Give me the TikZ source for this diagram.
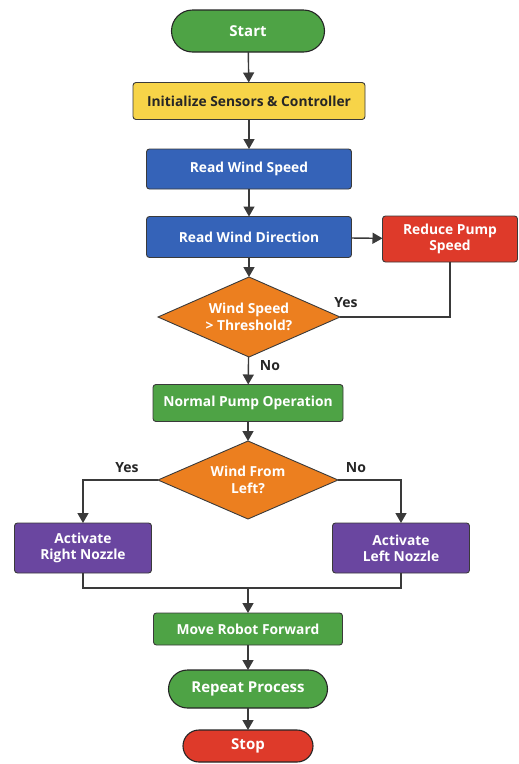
\documentclass[tikz,border=0pt]{standalone}
\usepackage{fontspec}
\setmainfont{Open Sans}
\usetikzlibrary{shapes.geometric,shapes.misc,arrows.meta}
\definecolor{termgreen}{HTML}{4EA345}
\definecolor{inityellow}{HTML}{F7D448}
\definecolor{readblue}{HTML}{3563B8}
\definecolor{warnred}{HTML}{DE3A2A}
\definecolor{askorange}{HTML}{EC7F1F}
\definecolor{nozzlepurple}{HTML}{6A46A0}
\definecolor{linegray}{HTML}{3A3A3A}
\tikzset{
  procbox/.style={rectangle, rounded corners=3pt, draw=linegray, line width=0.9pt,
    text=white, font=\bfseries\fontsize{13.8}{16}\selectfont, align=center,
    inner sep=0pt, outer sep=0pt},
  termbox/.style={rounded rectangle, draw=black!85, line width=1.1pt,
    text=white, font=\bfseries\fontsize{15}{17}\selectfont,
    inner sep=0pt, outer sep=0pt},
  askbox/.style={diamond, fill=askorange, draw=linegray, line width=0.9pt,
    text=white, font=\bfseries\fontsize{13.8}{17}\selectfont, align=center,
    inner sep=0pt, outer sep=0pt, shape aspect=2.3},
  flow/.style={draw=linegray, line width=1.4pt, -{Triangle[width=11pt,length=10pt]}},
  plainflow/.style={draw=linegray, line width=1.4pt},
  answer/.style={text=black!85, font=\bfseries\fontsize{14}{16}\selectfont}
}
\begin{document}
\begin{tikzpicture}[x=1pt,y=-1pt]
\useasboundingbox (0,0) rectangle (519,764);

% main column
\node[termbox, fill=termgreen, minimum width=153pt, minimum height=42pt] (start) at (248,31) {Start};
\node[procbox, fill=inityellow, text=black!85, minimum width=232pt, minimum height=37pt] (init) at (249,101) {Initialize Sensors \& Controller};
\node[procbox, fill=readblue, minimum width=205pt, minimum height=40pt] (speed) at (249,169) {Read Wind Speed};
\node[procbox, fill=readblue, minimum width=205pt, minimum height=41pt] (direction) at (249,237) {Read Wind Direction};
\node[procbox, fill=warnred, minimum width=135pt, minimum height=46pt] (reduce) at (450,239) {Reduce Pump\\Speed};
\node[askbox, minimum width=182pt, minimum height=80pt] (overlimit) at (249,317) {Wind Speed\\> Threshold?};
\node[procbox, fill=termgreen, minimum width=190pt, minimum height=37pt] (normal) at (248,403) {Normal Pump Operation};
\node[askbox, minimum width=180pt, minimum height=78pt] (fromleft) at (248,480) {Wind From\\Left?};
\node[procbox, fill=nozzlepurple, minimum width=137pt, minimum height=50pt] (rightnozzle) at (83,548) {Activate\\Right Nozzle};
\node[procbox, fill=nozzlepurple, minimum width=137pt, minimum height=50pt] (leftnozzle) at (401,548) {Activate\\Left Nozzle};
\coordinate (merge) at (248,588);
\node[procbox, fill=termgreen, minimum width=189pt, minimum height=32pt] (forward) at (248,629) {Move Robot Forward};
\node[termbox, fill=termgreen, minimum width=159pt, minimum height=38pt] (repeat) at (248,689) {Repeat Process};
\node[termbox, fill=warnred, minimum width=130pt, minimum height=32pt] (stop) at (248,746) {Stop};

% connectors
\draw[flow] (start) -- (init);
\draw[flow] (init) -- (speed);
\draw[flow] (speed) -- (direction);
\draw[flow] (direction) -- (overlimit);
\draw[flow] (direction) -- (reduce);
\draw[plainflow] (overlimit.east) -- (reduce.south |- overlimit.east) -- (reduce.south);
\node[answer] (yesreduce) at (346,303) {Yes};
\draw[flow] (overlimit) -- (normal);
\node[answer] (nonormal) at (270,366) {No};
\draw[flow] (normal) -- (fromleft);
\draw[flow] (fromleft.west) -| (rightnozzle.north);
\node[answer] (yesright) at (127,468) {Yes};
\draw[flow] (fromleft.east) -| (leftnozzle.north);
\node[answer] (noleft) at (356,468) {No};
\draw[plainflow] (rightnozzle.south) |- (merge) -| (leftnozzle.south);
\draw[flow] (merge) -- (forward);
\draw[flow] (forward) -- (repeat);
\draw[flow] (repeat) -- (stop);

\end{tikzpicture}
\end{document}
